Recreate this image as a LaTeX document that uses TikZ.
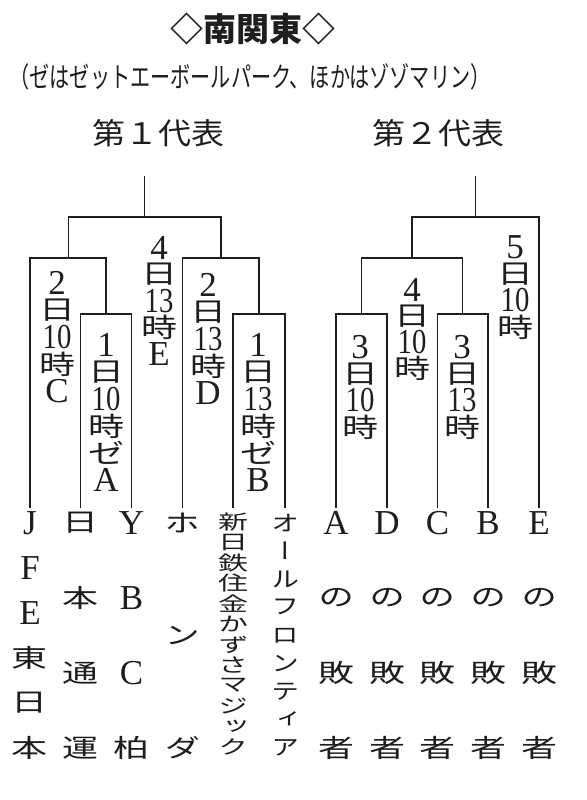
\documentclass[tikz,border=0pt]{standalone}
\usepackage{fontspec}
\usepackage{graphicx}
\setmainfont{Liberation Serif}
\newfontfamily\jp{Noto Sans CJK JP}
\newfontfamily\jpv[RawFeature=+vert]{Noto Sans CJK JP}
\definecolor{ink}{HTML}{1E1E1E}
% label pieces
\newcommand\lK[1]{{\jp\fontsize{36}{36}\selectfont\scalebox{1}[0.74]{#1}}}
\newcommand\lT[1]{\scalebox{0.82}[1]{#1}}
% team pieces
\newcommand\tK[1]{{\jpv\fontsize{36}{36}\selectfont\scalebox{1}[0.7]{#1}}}
\newcommand\tS[1]{{\jpv\fontsize{30}{30}\selectfont\scalebox{1}[0.66]{#1}}}
\newcommand\tO[1]{{\jpv\fontsize{28}{28}\selectfont\scalebox{1}[0.8]{#1}}}
\newcommand\col[6]{\foreach \c [count=\i] in {#6}{\node[#1] (#2-\i) at (#3,{#4+#5*(\i-1)}) {\c};}}
\tikzset{
  br/.style={draw=ink, line width=1.1pt},
  lb/.style={inner sep=0pt, text=ink, font=\fontsize{35}{35}\selectfont},
  tm/.style={inner sep=0pt, text=ink, font=\fontsize{35}{35}\selectfont},
  hd/.style={inner sep=0pt, text=ink},
}
\begin{document}
\begin{tikzpicture}[x=1pt,y=-1pt]
\useasboundingbox[fill=white] (0,0) rectangle (586,800);

% headings
\node[hd, font=\jp\bfseries\fontsize{33}{33}\selectfont] (title) at (253,29) {◇南関東◇};
\node[hd, font=\jp\fontsize{28}{28}\selectfont] (sub) at (250,77) {\scalebox{0.72}[1]{（ゼはゼットエーボールパーク、ほかはゾゾマリン）}};
\node[hd, font=\jp\fontsize{33}{33}\selectfont] (rep1) at (158,133) {\scalebox{1}[0.9]{第１代表}};
\node[hd, font=\jp\fontsize{33}{33}\selectfont] (rep2) at (438,133) {\scalebox{1}[0.9]{第２代表}};

% bracket coordinates
\coordinate (topL) at (144.5,176);
\coordinate (mE) at (144.5,217);
\coordinate (mC) at (68.5,258);
\coordinate (mD) at (221,258);
\coordinate (mA) at (106,314);
\coordinate (mB) at (259,314);
\coordinate (topR) at (475.5,176);
\coordinate (m5) at (475.5,217);
\coordinate (m4) at (412,258);
\coordinate (m3a) at (361.5,314);
\coordinate (m3b) at (462.5,314);
\coordinate (t1) at (30,508);
\coordinate (t2) at (80.5,508);
\coordinate (t3) at (131.5,508);
\coordinate (t4) at (182.5,508);
\coordinate (t5) at (233,508);
\coordinate (t6) at (285,508);
\coordinate (t7) at (336,508);
\coordinate (t8) at (387,508);
\coordinate (t9) at (437.5,508);
\coordinate (t10) at (488,508);
\coordinate (t11) at (539,508);

% left bracket
\draw[br] (mE) -- (topL);
\draw[br] (mC) |- (mE) -| (mD);
\draw[br] (t1) |- (mC) -| (mA);
\draw[br] (t2) |- (mA) -| (t3);
\draw[br] (t4) |- (mD) -| (mB);
\draw[br] (t5) |- (mB) -| (t6);
% right bracket
\draw[br] (m5) -- (topR);
\draw[br] (m4) |- (m5) -| (t11);
\draw[br] (m3a) |- (m4) -| (m3b);
\draw[br] (t7) |- (m3a) -| (t8);
\draw[br] (t9) |- (m3b) -| (t10);

% match labels
\col{lb}{L1}{57}{283}{27}{2,\lK{日},\lT{10},\lK{時},C}
\col{lb}{L2}{106}{345}{27}{1,\lK{日},\lT{10},\lK{時},\lK{ゼ},A}
\col{lb}{L3}{159}{248}{26.5}{4,\lK{日},\lT{13},\lK{時},E}
\col{lb}{L4}{208}{285}{27}{2,\lK{日},\lT{13},\lK{時},D}
\col{lb}{L5}{258}{345}{27}{1,\lK{日},\lT{13},\lK{時},\lK{ゼ},B}
\col{lb}{R1}{515}{247}{26.7}{5,\lK{日},\lT{10},\lK{時}}
\col{lb}{R2}{412}{290}{26}{4,\lK{日},\lT{10},\lK{時}}
\col{lb}{R3}{360}{347}{26.7}{3,\lK{日},\lT{10},\lK{時}}
\col{lb}{R4}{462}{347}{26.7}{3,\lK{日},\lT{13},\lK{時}}

% teams
\col{tm}{c1}{30}{523}{45}{J,F,E,\tK{東},\tK{日},\tK{本}}
\col{tm}{c2}{80.5}{523}{75}{\tK{日},\tK{本},\tK{通},\tK{運}}
\col{tm}{c3}{131.5}{523}{75}{Y,B,C,\tK{柏}}
\col{tm}{c4}{182.5}{523}{112.5}{\tK{ホ},\tK{ン},\tK{ダ}}
\col{tm}{c5}{233}{522}{20.45}{\tS{新},\tS{日},\tS{鉄},\tS{住},\tS{金},\tS{か},\tS{ず},\tS{さ},\tS{マ},\tS{ジ},\tS{ッ},\tS{ク}}
\col{tm}{c6}{285}{523}{28.1}{\tO{オ},\tO{ー},\tO{ル},\tO{フ},\tO{ロ},\tO{ン},\tO{テ},\tO{ィ},\tO{ア}}
\col{tm}{c7}{336}{523}{75}{A,\tK{の},\tK{敗},\tK{者}}
\col{tm}{c8}{387}{523}{75}{D,\tK{の},\tK{敗},\tK{者}}
\col{tm}{c9}{437.5}{523}{75}{C,\tK{の},\tK{敗},\tK{者}}
\col{tm}{c10}{488}{523}{75}{B,\tK{の},\tK{敗},\tK{者}}
\col{tm}{c11}{539}{523}{75}{E,\tK{の},\tK{敗},\tK{者}}
\end{tikzpicture}
\end{document}
